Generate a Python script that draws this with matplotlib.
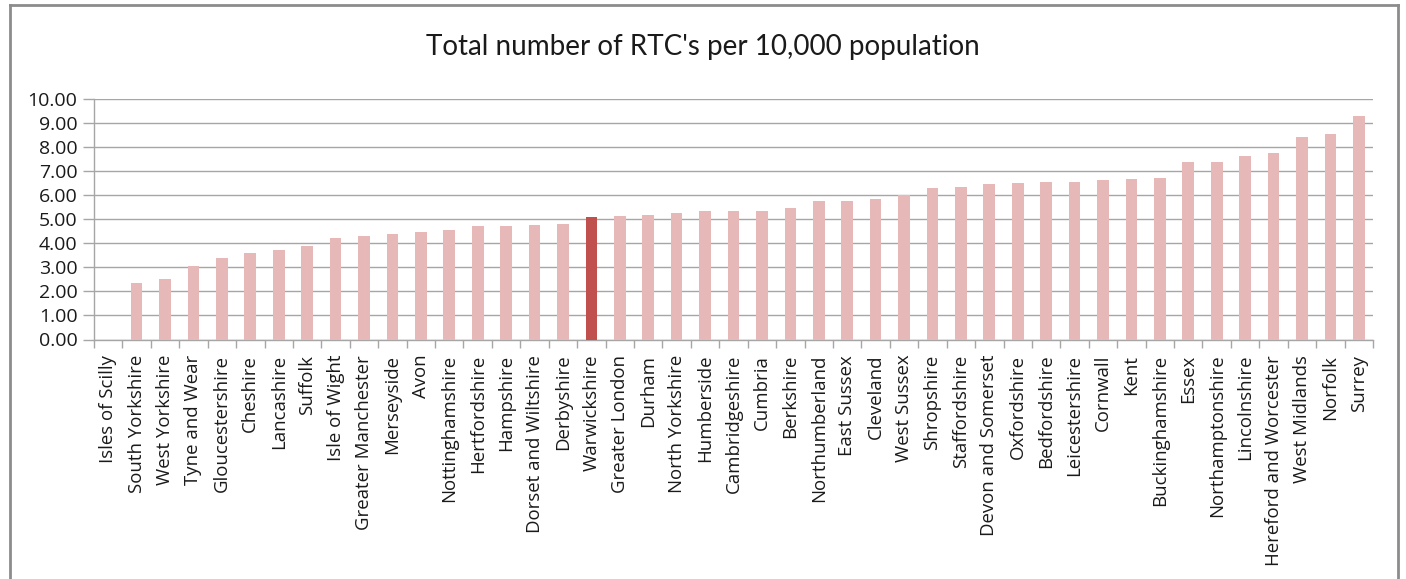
import matplotlib
matplotlib.use('Agg')
import matplotlib.pyplot as plt
from matplotlib.lines import Line2D
import numpy as np

counties = ['Isles of Scilly', 'South Yorkshire', 'West Yorkshire', 'Tyne and Wear',
            'Gloucestershire', 'Cheshire', 'Lancashire', 'Suffolk', 'Isle of Wight',
            'Greater Manchester', 'Merseyside', 'Avon', 'Nottinghamshire', 'Hertfordshire',
            'Hampshire', 'Dorset and Wiltshire', 'Derbyshire', 'Warwickshire',
            'Greater London', 'Durham', 'North Yorkshire', 'Humberside', 'Cambridgeshire',
            'Cumbria', 'Berkshire', 'Northumberland', 'East Sussex', 'Cleveland',
            'West Sussex', 'Shropshire', 'Staffordshire', 'Devon and Somerset',
            'Oxfordshire', 'Bedfordshire', 'Leicestershire', 'Cornwall', 'Kent',
            'Buckinghamshire', 'Essex', 'Northamptonshire', 'Lincolnshire',
            'Hereford and Worcester', 'West Midlands', 'Norfolk', 'Surrey']
rtc_rate = [0.00, 2.36, 2.51, 3.05, 3.37, 3.58, 3.74, 3.90, 4.23, 4.29, 4.38, 4.49,
            4.55, 4.70, 4.72, 4.76, 4.81, 5.08, 5.13, 5.19, 5.24, 5.34, 5.34, 5.34,
            5.45, 5.77, 5.77, 5.83, 5.99, 6.30, 6.35, 6.45, 6.50, 6.56, 6.56, 6.62,
            6.67, 6.73, 7.36, 7.36, 7.63, 7.74, 8.42, 8.53, 9.28]
highlight = 'Warwickshire'
yticks = np.arange(0, 10.01, 1.0)

plt.rcParams['font.family'] = ['Open Sans', 'DejaVu Sans']
grey = '#a6a6a6'

fig = plt.figure(figsize=(14.06, 5.79), dpi=100)
ax = fig.add_axes([94/1406, 1 - 339.5/579, (1373 - 94)/1406, 240.5/579])

x = np.arange(len(counties))
colors = ['#c0504d' if c == highlight else '#e6b9b8' for c in counties]
ax.bar(x, rtc_rate, width=0.41, color=colors, zorder=3)

ax.set_xlim(-0.5, len(counties) - 0.5)
ax.set_ylim(0, 10)

# category boundaries get the tick marks, centres get the labels
ax.set_xticks(np.arange(len(counties) + 1) - 0.5)
ax.set_xticklabels([])
ax.set_xticks(x, minor=True)
ax.set_xticklabels(counties, minor=True, rotation=90, va='top', fontsize=13.4,
                   color='#1a1a1a')
ax.tick_params(axis='x', which='major', length=6, width=1, color=grey, direction='out')
ax.tick_params(axis='x', which='minor', length=0, pad=11)

ax.set_yticks(yticks)
ax.set_yticklabels(['%.2f' % t for t in yticks], fontsize=14, color='#1a1a1a')
ax.tick_params(axis='y', length=8, width=1, color=grey, pad=4)

ax.grid(axis='y', color=grey, linewidth=1, zorder=0)
for side in ['top', 'right']:
    ax.spines[side].set_visible(False)
for side in ['left', 'bottom']:
    ax.spines[side].set_color(grey)
    ax.spines[side].set_linewidth(1)

fig.text(703/1406, 1 - 47/579, "Total number of RTC's per 10,000 population",
         ha='center', va='center', fontsize=20,
         family=['Lato', 'DejaVu Sans'], color='#1a1a1a')

# chart frame
frame = dict(color='#8c8c8c', linewidth=2, transform=fig.transFigure)
fig.add_artist(Line2D([10/1406, 10/1406], [0, 1 - 5/579], **frame))
fig.add_artist(Line2D([1398/1406, 1398/1406], [0, 1 - 5/579], **frame))
fig.add_artist(Line2D([10/1406, 1398/1406], [1 - 5/579, 1 - 5/579], **frame))

fig.savefig('out.png', dpi=100)
